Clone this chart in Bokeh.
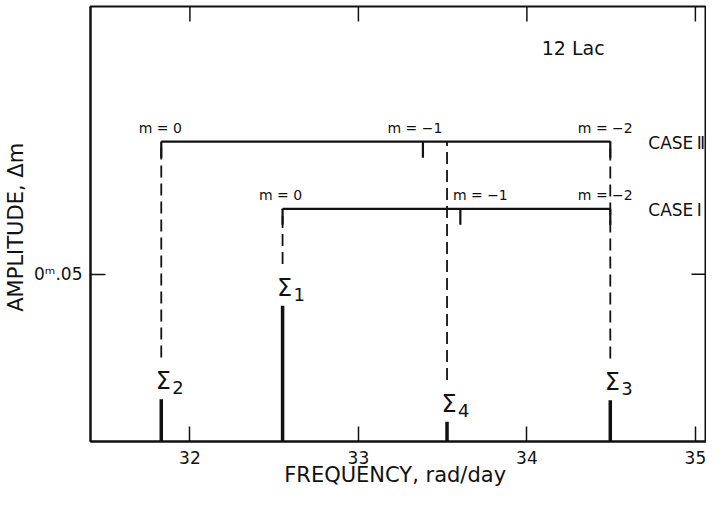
from bokeh.plotting import figure
from bokeh.models import ColumnDataSource, FixedTicker, LabelSet, Label
from bokeh.core.properties import value
from bokeh.embed import file_html
from bokeh.resources import INLINE

# ---------------- data ----------------
x_ticks = [32, 33, 34, 35]
y_ticks = [0.05]
y_tick_labels = {0.05: "0\u1d50.05"}

sigma_sub = ["1", "2", "3", "4"]
sigma_freq = [32.55, 31.83, 34.495, 33.526]
sigma_amp = [0.0406, 0.0126, 0.0123, 0.0059]
sigma_top = [0.0696, 0.0897, 0.0897, 0.0897]   # bracket level reached by dashed line

case_names = ["CASE\u2009\u2161", "CASE\u2009\u2160"]
case_level = [0.0897, 0.0696]
case_m0 = [31.83, 32.55]
case_m1 = [33.383, 33.605]
case_m2 = [34.495, 34.495]
m_texts = ["m = 0", "m = \u22121", "m = \u22122"]

star_name = "12 Lac"
star_pos = (34.275, 0.1176)

# ---------------- styles / layout ----------------
FONT = "DejaVu Sans"
INK = "#111111"
X0, X1 = 31.41, 35.066
Y0, Y1 = 0.0, 0.1301
FRAME_W, FRAME_H = 616, 435
TICK_PX = 15
tick_dx = TICK_PX * (X1 - X0) / FRAME_W
tick_dy = TICK_PX * (Y1 - Y0) / FRAME_H
label_gap = 0.0125    # space left under dashed lines for the sigma labels
end_len = 0.0048      # short vertical ends / m ticks

p = figure(width=706, height=490, x_range=(X0, X1), y_range=(Y0, Y1),
           output_backend="svg", toolbar_location=None,
           min_border_left=90, min_border_right=0, min_border_top=6, min_border_bottom=49)
p.background_fill_color = "white"
p.border_fill_color = "white"
p.outline_line_color = INK
p.outline_line_width = 2
p.xgrid.visible = False
p.ygrid.visible = False

for ax in (p.xaxis[0], p.yaxis[0]):
    ax.major_tick_in = TICK_PX
    ax.major_tick_out = 0
    ax.minor_tick_line_color = None
    ax.axis_line_width = 2
    ax.axis_line_color = INK
    ax.major_tick_line_width = 1.5
    ax.major_tick_line_color = INK
    ax.major_label_text_font = FONT
    ax.major_label_text_font_size = "17px"
    ax.major_label_text_color = INK
    ax.axis_label_text_font = FONT
    ax.axis_label_text_font_size = "21px"
    ax.axis_label_text_font_style = "normal"
    ax.axis_label_text_color = INK

p.xaxis[0].ticker = FixedTicker(ticks=x_ticks)
p.xaxis[0].axis_label = "FREQUENCY,  rad/day"
p.xaxis[0].major_label_standoff = 9
p.xaxis[0].axis_label_standoff = -4

p.yaxis[0].ticker = FixedTicker(ticks=y_ticks)
p.yaxis[0].major_label_overrides = y_tick_labels
p.yaxis[0].axis_label = "AMPLITUDE,  \u0394m"
p.yaxis[0].major_label_standoff = 8
p.yaxis[0].axis_label_standoff = 3

# inward ticks on the top and right frame edges
top_src = ColumnDataSource(dict(x=x_ticks, y0=[Y1] * len(x_ticks), y1=[Y1 - tick_dy] * len(x_ticks)))
p.segment(x0="x", y0="y0", x1="x", y1="y1", source=top_src, line_color=INK, line_width=1.5)
right_src = ColumnDataSource(dict(y=y_ticks, x0=[X1] * len(y_ticks), x1=[X1 - tick_dx] * len(y_ticks)))
p.segment(x0="x0", y0="y", x1="x1", y1="y", source=right_src, line_color=INK, line_width=1.5)

# ---------------- sigma bars ----------------
sig = ColumnDataSource(dict(
    x=sigma_freq, amp=sigma_amp, top=sigma_top,
    dash0=[a + label_gap for a in sigma_amp],
    zero=[0] * len(sigma_amp),
    sig=["\u03a3"] * len(sigma_amp), sub=sigma_sub,
))
p.segment(x0="x", y0="zero", x1="x", y1="amp", source=sig,
          line_color=INK, line_width=3.5, line_cap="butt")
p.segment(x0="x", y0="dash0", x1="x", y1="top", source=sig,
          line_color=INK, line_width=1.8, line_dash="12 6", line_cap="butt")
p.add_layout(LabelSet(x="x", y="amp", text="sig", source=sig, x_offset=2, y_offset=10,
                      text_align="center", text_baseline="alphabetic",
                      text_font=value(FONT), text_font_size=value("24px"), text_color=INK))
p.add_layout(LabelSet(x="x", y="amp", text="sub", source=sig, x_offset=11, y_offset=5,
                      text_align="left", text_baseline="alphabetic",
                      text_font=value(FONT), text_font_size=value("18px"), text_color=INK))

# ---------------- brackets ----------------
br = ColumnDataSource(dict(
    x0=case_m0, x1=case_m2, m1=case_m1, lev=case_level,
    low=[v - end_len for v in case_level], name=case_names,
))
p.segment(x0="x0", y0="lev", x1="x1", y1="lev", source=br, line_color=INK, line_width=2.2)
for col in ("x0", "x1", "m1"):
    p.segment(x0=col, y0="lev", x1=col, y1="low", source=br, line_color=INK, line_width=2.2,
              line_cap="butt")

p.add_layout(LabelSet(x="x1", y="lev", text="name", source=br, x_offset=38, y_offset=-1,
                      text_align="left", text_baseline="middle",
                      text_font=value(FONT), text_font_size=value("17px"), text_color=INK))

mlab = ColumnDataSource(dict(
    x=[case_m0[0], case_m1[0], case_m2[0], case_m0[1], case_m1[1], case_m2[1]],
    y=[case_level[0]] * 3 + [case_level[1]] * 3,
    t=m_texts * 2,
    dx=[-1, -8, -5, -2, 20, -5],
))
p.add_layout(LabelSet(x="x", y="y", text="t", source=mlab, x_offset="dx", y_offset=9,
                      text_align="center", text_baseline="alphabetic",
                      text_font=value(FONT), text_font_size=value("14px"), text_color=INK))

p.add_layout(Label(x=star_pos[0], y=star_pos[1], text=star_name, text_align="center",
                   text_baseline="middle", text_font=FONT, text_font_size="19px",
                   text_color=INK))

open("out.html", "w").write(file_html(p, INLINE))
